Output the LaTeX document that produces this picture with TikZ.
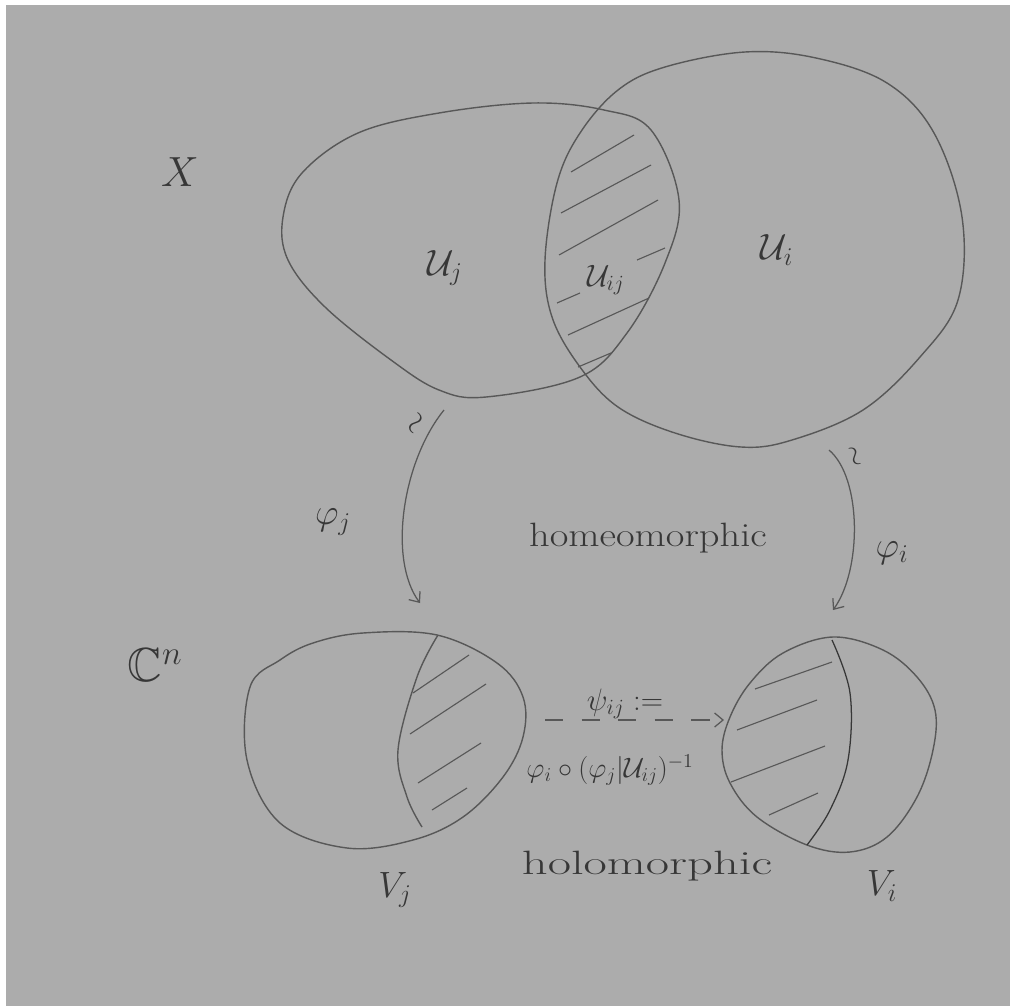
\RequirePackage{fix-cm}
\documentclass[tikz,border=0pt]{standalone}
\usepackage{fontspec}
\usepackage{amssymb}
\usetikzlibrary{arrows.meta}
\definecolor{paper}{RGB}{172,172,172}
\definecolor{pencil}{RGB}{88,88,88}
\definecolor{ink}{RGB}{55,55,55}
\tikzset{
  outline/.style={draw=pencil, line width=1pt},
  hatchline/.style={draw=pencil, line width=0.8pt},
  darkline/.style={draw=ink, line width=0.9pt},
  mapto/.style={draw=pencil, line width=0.9pt, -{Straight Barb[length=6pt,width=10pt]}},
  lbl/.style={text=ink, inner sep=0pt},
  big/.style={lbl, font=\fontsize{26}{30}\selectfont},
  mid/.style={lbl, font=\fontsize{22}{26}\selectfont},
  word/.style={lbl, font=\fontsize{24}{28}\selectfont},
}
\begin{document}
\begin{tikzpicture}[x=0.025cm, y=-0.025cm]
\useasboundingbox (0,0) rectangle (1010,1006);
\fill[white] (0,0) rectangle (1010,1006);
\fill[paper] (6,5) rectangle (1010,1006);

% U_j
\draw[outline] plot[smooth cycle, tension=0.6] coordinates {
  (358,133) (439,113) (533,103) (604,110) (651,130) (679,200) (665,263)
  (627,333) (580,377) (486,397) (439,390) (391,360) (325,307) (288,260)
  (283,217) (302,173)};
% U_i
\draw[outline] plot[smooth cycle, tension=0.6] coordinates {
  (745,52) (816,58) (887,83) (934,133) (962,217) (958,300) (920,357)
  (863,410) (792,440) (741,447) (675,433) (618,407) (580,367) (552,317)
  (545,260) (557,183) (580,133) (618,90) (665,67)};
% hatching of U_ij
\draw[hatchline] (571,172) -- (634,135);
\draw[hatchline] (561,213) -- (651,165);
\draw[hatchline] (559,255) -- (658,200);
\draw[hatchline] (637,260) -- (665,248);
\draw[hatchline] (557,303) -- (580,293);
\draw[hatchline] (568,335) -- (649,298);
\draw[hatchline] (578,367) -- (611,353);

% V_j
\draw[outline] plot[smooth cycle, tension=0.6] coordinates {
  (313,643) (363,633) (437,635) (497,663) (523,697) (523,737) (503,777)
  (463,817) (413,840) (347,848) (280,823) (247,760) (250,687) (280,660)};
\draw[outline] plot[smooth, tension=0.6] coordinates {
  (438,635) (417,677) (398,750) (407,797) (422,827)};
\draw[hatchline] (413,693) -- (469,655);
\draw[hatchline] (410,734) -- (486,684);
\draw[hatchline] (418,783) -- (481,743);
\draw[hatchline] (432,810) -- (467,788);

% V_i
\draw[outline] plot[smooth cycle, tension=0.6] coordinates {
  (833,637) (883,650) (917,677) (935,710) (933,750) (917,797) (887,837)
  (850,852) (807,845) (757,817) (730,783) (722,750) (730,717) (750,683)
  (783,653)};
\draw[darkline] plot[smooth, tension=0.6] coordinates {
  (832,640) (850,693) (848,760) (830,810) (807,845)};
\draw[hatchline] (755,689) -- (832,662);
\draw[hatchline] (737,730) -- (817,700);
\draw[hatchline] (731,782) -- (825,746);
\draw[hatchline] (769,815) -- (818,793);

% arrow end points
\coordinate (ujout) at (444,410);
\coordinate (vjin) at (420,603);
\coordinate (uiout) at (829,450);
\coordinate (viin) at (833,610);
\coordinate (vjout) at (545,720);
\coordinate (viinb) at (724,720);

\draw[mapto] (ujout) .. controls (402,462) and (388,560) .. (vjin);
\draw[mapto] (uiout) .. controls (862,478) and (862,570) .. (viin);
\draw[mapto, dash pattern=on 13pt off 13pt] (vjout) -- (viinb);

% labels
\node[lbl, font=\fontsize{30}{34}\selectfont] (X) at (180,172) {$X$};
\node[lbl, font=\fontsize{34}{40}\selectfont] (Cn) at (155,665) {$\mathbb{C}^n$};
\node[big] (Uj) at (445,268) {$\mathcal{U}_j$};
\node[big] (Ui) at (777,250) {$\mathcal{U}_i$};
\node[mid] (Uij) at (606,280) {$\mathcal{U}_{ij}$};
\node[big] (phij) at (333,522) {$\varphi_j$};
\node[big] (phii) at (892,553) {$\varphi_i$};
\node[lbl, rotate=60, font=\fontsize{22}{26}\selectfont] (tj) at (418,424) {$\sim$};
\node[lbl, rotate=-70, font=\fontsize{20}{24}\selectfont] (ti) at (853,457) {$\sim$};
\node[word] (homeo) at (648,538) {\scalebox{1.2}[1]{homeomorphic}};
\node[mid] (psi) at (625,704) {$\psi_{ij}:=$};
\node[lbl, font=\fontsize{20}{24}\selectfont] (comp) at (610,770) {$\varphi_i\circ(\varphi_j|\mathcal{U}_{ij})^{-1}$};
\node[word] (holo) at (647,866) {\scalebox{1.5}[1]{holomorphic}};
\node[big] (Vj) at (395,890) {$V_j$};
\node[big] (Vi) at (882,886) {$V_i$};
\end{tikzpicture}
\end{document}
